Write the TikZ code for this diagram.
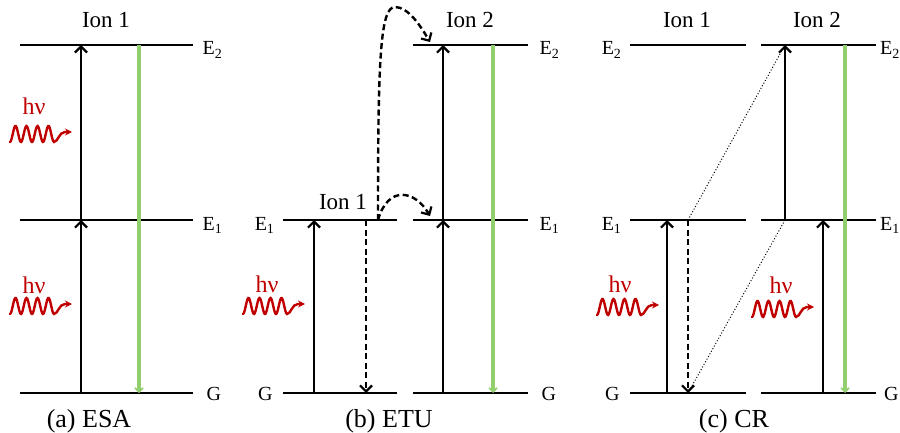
\documentclass[tikz,border=0pt]{standalone}
\usepackage{fontspec}
\setmainfont{Liberation Serif}
\usetikzlibrary{arrows.meta}
\definecolor{phred}{RGB}{192,0,0}
\definecolor{emgreen}{RGB}{146,206,110}
\begin{document}
\begin{tikzpicture}[x=1pt,y=-1pt,
  enlevel/.style={line width=2.8pt},
  uparr/.style={line width=2.4pt,-{Straight Barb[length=6pt,width=12pt,line width=2.2pt]}},
  dnarr/.style={line width=2.4pt,dash pattern=on 6pt off 3.5pt,-{Straight Barb[length=6pt,width=12pt,line width=2.2pt]}},
  transfer/.style={line width=2.4pt,dash pattern=on 6pt off 3.5pt,-{Straight Barb[length=6pt,width=12pt,line width=2.2pt]}},
  emitarr/.style={emgreen,line width=3.6pt,-{Straight Barb[length=4pt,width=8pt,line width=1.6pt]}},
  dotline/.style={line width=1pt,dotted},
  lab/.style={font=\fontsize{20}{24}\selectfont},
  iontxt/.style={font=\fontsize{23}{27}\selectfont,anchor=base},
  captxt/.style={font=\fontsize{26}{30}\selectfont,anchor=base},
  hvtxt/.style={font=\fontsize{24}{28}\selectfont,text=phred,anchor=base},
  photon/.pic={\draw[phred,line width=2.4pt,line cap=round,-{Stealth[length=7pt,width=7pt]}]
     plot[domain=0:44,samples=60,smooth] (\x,{8*cos(\x*360/11)})
     .. controls (48,8) and (49,-2) .. (55,-2) -- (62,-2);}
]
\useasboundingbox (0,0) rectangle (900,433);

% ---------------- (a) ESA ----------------
\draw[enlevel] (20,45) -- (193,45);
\draw[enlevel] (20,220) -- (193,220);
\draw[enlevel] (20,393) -- (193,393);
\node[lab,anchor=base west] (aE2l) at (199,55) {E\textsubscript{2}};
\node[lab,anchor=base west] (aE1l) at (199,230) {E\textsubscript{1}};
\node[lab,anchor=base west] (aGl) at (203,400) {G};
\node[iontxt] (aion) at (106,28) {Ion 1};
\coordinate (aG) at (81,393);
\coordinate (aE1) at (81,220);
\coordinate (aE2) at (81,45);
\draw[uparr] (aG) -- (aE1);
\draw[uparr] (aE1) -- (aE2);
\coordinate (aGt) at (139,393);
\coordinate (aGs) at (139,45);
\draw[emitarr] (aGs) -- (aGt);
\node[hvtxt] (ahv1) at (34,115) {hν};
\pic at (10,134) {photon};
\node[hvtxt] (ahv2) at (34,293) {hν};
\pic at (10,306) {photon};
\node[captxt] (acap) at (89,427) {(a) ESA};

% ---------------- (b) ETU ----------------
\draw[enlevel] (283,220) -- (397,220);
\draw[enlevel] (283,393) -- (397,393);
\draw[enlevel] (413,45) -- (528,45);
\draw[enlevel] (413,220) -- (528,220);
\draw[enlevel] (413,393) -- (528,393);
\node[lab,anchor=base east] (bE1l) at (278,230) {E\textsubscript{1}};
\node[lab,anchor=base east] (bGl) at (276,400) {G};
\node[lab,anchor=base west] (bE2r) at (536,55) {E\textsubscript{2}};
\node[lab,anchor=base west] (bE1r) at (536,230) {E\textsubscript{1}};
\node[lab,anchor=base west] (bGr) at (538,400) {G};
\node[iontxt] (bion1) at (343,210) {Ion 1};
\node[iontxt] (bion2) at (470,28) {Ion 2};
\coordinate (b1G) at (314,393);
\coordinate (b1E1) at (314,220);
\draw[uparr] (b1G) -- (b1E1);
\coordinate (b1d) at (366,220);
\coordinate (b1dG) at (366,393);
\draw[dnarr] (b1d) -- (b1dG);
\coordinate (b2G) at (443,393);
\coordinate (b2E1) at (443,220);
\coordinate (b2E2) at (443,45);
\draw[uparr] (b2G) -- (b2E1);
\draw[uparr] (b2E1) -- (b2E2);
\coordinate (bgs) at (493,45);
\coordinate (bgt) at (493,393);
\draw[emitarr] (bgs) -- (bgt);
\coordinate (bsrc) at (378,220);
\coordinate (btop) at (395,7);
\coordinate (bdst2) at (430,42);
\coordinate (bdst1) at (430,216);
\draw[transfer] (bsrc) .. controls (378,60) and (380,7) .. (btop)
   .. controls (408,7) and (420,25) .. (bdst2);
\draw[transfer] (bsrc) .. controls (388,185) and (415,190) .. (bdst1);
\node[hvtxt] (bhv) at (267,292) {hν};
\pic at (243,306) {photon};
\node[captxt] (bcap) at (389,427) {(b) ETU};

% ---------------- (c) CR ----------------
\draw[enlevel] (630,45) -- (746,45);
\draw[enlevel] (630,220) -- (746,220);
\draw[enlevel] (630,393) -- (746,393);
\draw[enlevel] (761,45) -- (876,45);
\draw[enlevel] (761,220) -- (876,220);
\draw[enlevel] (761,393) -- (876,393);
\node[lab,anchor=base east] (cE2l) at (625,55) {E\textsubscript{2}};
\node[lab,anchor=base east] (cE1l) at (625,230) {E\textsubscript{1}};
\node[lab,anchor=base east] (cGl) at (623,400) {G};
\node[lab,anchor=base west,inner xsep=0pt] (cE2r) at (880,55) {E\textsubscript{2}};
\node[lab,anchor=base west,inner xsep=0pt] (cE1r) at (880,230) {E\textsubscript{1}};
\node[lab,anchor=base west,inner xsep=0pt] (cGr) at (884,400) {G};
\node[iontxt] (cion1) at (687,28) {Ion 1};
\node[iontxt] (cion2) at (817,28) {Ion 2};
\coordinate (c1G) at (667,393);
\coordinate (c1E1) at (667,220);
\draw[uparr] (c1G) -- (c1E1);
\coordinate (c1d) at (688,220);
\coordinate (c1dG) at (688,393);
\draw[dnarr] (c1d) -- (c1dG);
\coordinate (c2a) at (785,220);
\coordinate (c2aE2) at (785,45);
\draw[uparr] (c2a) -- (c2aE2);
\coordinate (c2G) at (823,393);
\coordinate (c2E1) at (823,220);
\draw[uparr] (c2G) -- (c2E1);
\coordinate (cgs) at (845,45);
\coordinate (cgt) at (845,393);
\draw[emitarr] (cgs) -- (cgt);
\draw[dotline] (c1d) -- (c2aE2);
\draw[dotline] (c2a) -- (c1dG);
\node[hvtxt] (chv1) at (620,292) {hν};
\pic at (597,307) {photon};
\node[hvtxt] (chv2) at (781,293) {hν};
\pic at (752,309) {photon};
\node[captxt] (ccap) at (734,427) {(c) CR};
\end{tikzpicture}
\end{document}
